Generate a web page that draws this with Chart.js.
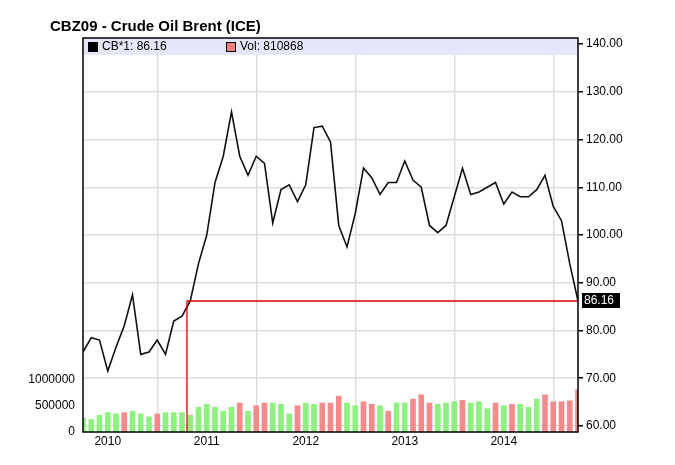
<!DOCTYPE html>
<html><head><meta charset="utf-8">
<script src="https://cdn.jsdelivr.net/npm/chart.js@4"></script>
<style>html,body{margin:0;background:#fff}#wrap{width:675px;height:465px}</style>
</head><body><div id="wrap"><canvas id="c" width="675" height="465"></canvas></div>
<script>
// monthly, Oct 2009 .. Oct 2014
const prices = [75.5,78.5,78,71.5,76.5,81,87.5,75,75.5,78,75,82,83,86.2,94,100,111,116.5,125.8,116.5,112.5,116.5,115,102.5,109.5,110.5,107,110.5,122.5,122.8,119.5,102,97.5,104.5,114,112,108.5,111,111,115.5,111.5,110,102,100.5,102,108,114,108.5,109,110,111,106.5,109,108,108,109.5,112.5,106,103,94,86.16];
const volumes = [266e3,240e3,323e3,373e3,348e3,373e3,399e3,348e3,291e3,348e3,373e3,373e3,373e3,323e3,475e3,532e3,475e3,399e3,475e3,557e3,399e3,506e3,557e3,557e3,532e3,348e3,506e3,557e3,532e3,557e3,557e3,690e3,557e3,506e3,582e3,532e3,506e3,399e3,557e3,557e3,633e3,715e3,557e3,532e3,557e3,582e3,608e3,557e3,582e3,449e3,557e3,506e3,532e3,532e3,475e3,633e3,715e3,582e3,582e3,600e3,810868];
const volUp = "gggggrgggrgggggggggrgrrgggrggrrrggrrgrggrrrgggrgggrgrgggrrrrr";
const yearLabels = ["2010","2011","2012","2013","2014"];
const yearIdx = [3,15,27,39,51];
const priceTicks = [60,70,80,90,100,110,120,130,140];
const volTicks = [0,500000,1000000];
const lastPrice = 86.16, markIdx = 12.6;

const FONT = "'Liberation Sans', 'DejaVu Sans', sans-serif";
Chart.defaults.font.family = FONT;
Chart.defaults.font.size = 12;
Chart.defaults.color = "#000";

const deco = {
  id: "deco",
  beforeDatasetsDraw(ch) {
    const { ctx, chartArea: a } = ch;
    ctx.save();
    ctx.fillStyle = "#e6e6fa";
    ctx.fillRect(a.left, a.top, a.right - a.left, 17);
    ctx.restore();
  },
  afterDraw(ch) {
    const { ctx, chartArea: a, scales } = ch;
    const x = Math.round(scales.x.getPixelForValue(markIdx)), y = Math.round(scales.y.getPixelForValue(lastPrice));
    ctx.save();
    ctx.strokeStyle = "#e00000"; ctx.lineWidth = 1.3;
    ctx.beginPath();
    ctx.moveTo(a.right, y); ctx.lineTo(x, y); ctx.lineTo(x, a.bottom);
    ctx.stroke();
    ctx.strokeStyle = "#000"; ctx.lineWidth = 1.5;
    ctx.strokeRect(a.left, a.top, a.right - a.left, a.bottom - a.top);
    // price tag
    ctx.fillStyle = "#000";
    ctx.fillRect(a.right + 4, y - 8, 38, 15);
    ctx.fillStyle = "#fff"; ctx.font = "12px " + FONT; ctx.textBaseline = "middle";
    ctx.fillText("86.16", a.right + 6, y);
    // title + legend
    ctx.fillStyle = "#000"; ctx.font = "bold 15px " + FONT; ctx.textBaseline = "alphabetic";
    ctx.fillText("CBZ09 - Crude Oil Brent (ICE)", 50, 31);
    ctx.font = "12px " + FONT; ctx.textBaseline = "middle";
    const ly = a.top + 9;
    ctx.fillRect(a.left + 5, ly - 5, 10, 10);
    ctx.fillText("CB*1: 86.16", a.left + 19, ly);
    ctx.fillStyle = "#f08080"; ctx.fillRect(a.left + 143, ly - 5, 10, 10);
    ctx.strokeStyle = "#000"; ctx.lineWidth = 1; ctx.strokeRect(a.left + 143.5, ly - 4.5, 9, 9);
    ctx.fillStyle = "#000"; ctx.fillText("Vol: 810868", a.left + 157, ly);
    ctx.restore();
  }
};

new Chart(document.getElementById("c"), {
  data: {
    datasets: [
      { type: "line", data: prices.map((v, i) => ({ x: i, y: v })), yAxisID: "y",
        borderColor: "#111", borderWidth: 1.6, pointRadius: 0, tension: 0, order: 1 },
      { type: "bar", data: volumes.map((v, i) => ({ x: i, y: v })), yAxisID: "yv",
        backgroundColor: volumes.map((_, i) => volUp[i] === "g" ? "#8ef07e" : "#f58a8a"),
        barThickness: 5, order: 2 }
    ]
  },
  options: {
    responsive: false, animation: false,
    layout: { padding: { top: 38, bottom: 0 } },
    plugins: { legend: { display: false }, tooltip: { enabled: false } },
    scales: {
      x: { type: "linear", min: 0, max: 60, offset: false,
        afterBuildTicks: (s) => { s.ticks = yearIdx.map((v) => ({ value: v })); },
        ticks: { callback: (v) => yearLabels[yearIdx.indexOf(v)], maxRotation: 0, padding: 2 },
        grid: { color: "#ddd", lineWidth: 1.5, drawTicks: false }, border: { display: false },
        afterFit: (s) => { s.height = 33; } },
      y: { position: "right", min: 58.74, max: 141.26,
        afterBuildTicks: (s) => { s.ticks = priceTicks.map((v) => ({ value: v })); },
        ticks: { callback: (v) => v.toFixed(2), padding: 3 },
        grid: { color: "#ddd", lineWidth: 1.5, tickColor: "#000", tickLength: 5 }, border: { display: false },
        afterFit: (s) => { s.width = 97; } },
      yv: { position: "left", min: 0, max: 7.58e6,
        afterBuildTicks: (s) => { s.ticks = volTicks.map((v) => ({ value: v })); },
        ticks: { callback: (v) => String(v), padding: 3 },
        grid: { display: false, drawOnChartArea: false, tickColor: "#000", tickLength: 5 }, border: { display: false },
        afterFit: (s) => { s.width = 83; } }
    }
  },
  plugins: [deco]
});
</script></body></html>
